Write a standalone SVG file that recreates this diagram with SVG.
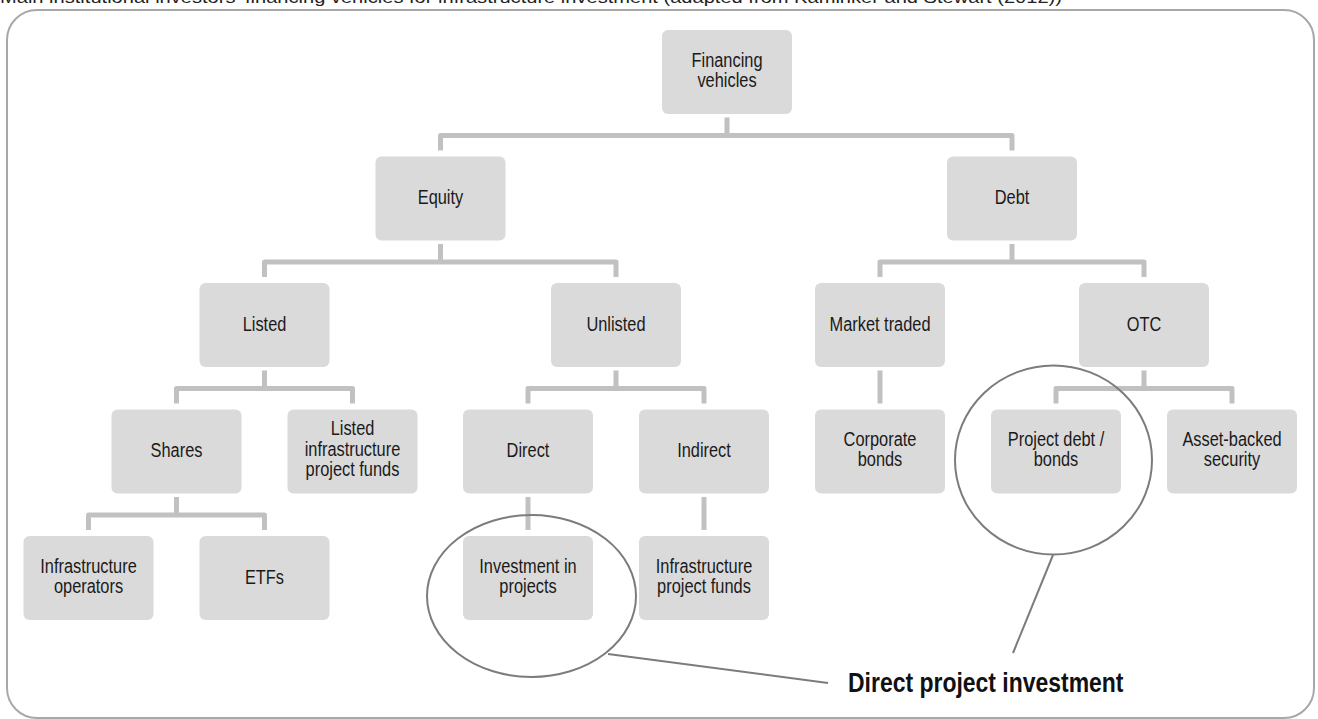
<svg xmlns="http://www.w3.org/2000/svg" width="1318" height="719" viewBox="0 0 1318 719">
<style>
.box{fill:#dadada}
.t{font-family:"Liberation Sans",Arial,sans-serif;font-size:21px;fill:#1a1a1a;text-anchor:middle}
.conn{fill:none;stroke:#c1c1c1;stroke-width:5;stroke-linejoin:round}
.hl{fill:none;stroke:#7c7c7c;stroke-width:2}
.title{font-family:"Liberation Sans",sans-serif;font-size:17px;fill:#222}
.lbl{font-family:"Liberation Sans",Arial,sans-serif;font-size:28px;font-weight:bold;fill:#111}
</style>
<rect width="1318" height="719" fill="#ffffff"/>
<text class="title" x="0" y="3" textLength="1062" lengthAdjust="spacingAndGlyphs">Main institutional investors' financing vehicles for infrastructure investment (adapted from Kaminker and Stewart (2012))</text>
<rect x="7" y="10" width="1307" height="708" rx="30" ry="30" fill="none" stroke="#a8a8a8" stroke-width="2"/>
<g id="connectors">
<path class="conn" d="M727 117.5V135.5M440.5 150.5V135.5H1012V150.5"/>
<path class="conn" d="M440.5 244V262M264.5 277V262H616V277"/>
<path class="conn" d="M1012 244V262M880 277V262H1144V277"/>
<path class="conn" d="M264.5 370.5V388.5M176.5 403.5V388.5H352.5V403.5"/>
<path class="conn" d="M616 370.5V388.5M528 403.5V388.5H704V403.5"/>
<path class="conn" d="M880 370.5V403.5"/>
<path class="conn" d="M1144 370.5V388.5M1056 403.5V388.5H1232V403.5"/>
<path class="conn" d="M176.5 497V515M88.5 530V515H264.5V530"/>
<path class="conn" d="M528 497V530"/>
<path class="conn" d="M704 497V530"/>
</g>
<g id="n-financing"><rect class="box" x="662" y="30" width="130" height="84" rx="6"/><text class="t" transform="translate(727 66.5) scale(.78 1)">Financing</text><text class="t" transform="translate(727 86.5) scale(.78 1)">vehicles</text></g>
<g id="n-equity"><rect class="box" x="375.5" y="156.5" width="130" height="84" rx="6"/><text class="t" transform="translate(440.5 204) scale(.78 1)">Equity</text></g>
<g id="n-debt"><rect class="box" x="947" y="156.5" width="130" height="84" rx="6"/><text class="t" transform="translate(1012 204) scale(.78 1)">Debt</text></g>
<g id="n-listed"><rect class="box" x="199.5" y="283" width="130" height="84" rx="6"/><text class="t" transform="translate(264.5 330.5) scale(.78 1)">Listed</text></g>
<g id="n-unlisted"><rect class="box" x="551" y="283" width="130" height="84" rx="6"/><text class="t" transform="translate(616 330.5) scale(.78 1)">Unlisted</text></g>
<g id="n-market"><rect class="box" x="815" y="283" width="130" height="84" rx="6"/><text class="t" transform="translate(880 330.5) scale(.78 1)">Market traded</text></g>
<g id="n-otc"><rect class="box" x="1079" y="283" width="130" height="84" rx="6"/><text class="t" transform="translate(1144 330.5) scale(.78 1)">OTC</text></g>
<g id="n-shares"><rect class="box" x="111.5" y="409.5" width="130" height="84" rx="6"/><text class="t" transform="translate(176.5 457) scale(.78 1)">Shares</text></g>
<g id="n-listedfunds"><rect class="box" x="287.5" y="409.5" width="130" height="84" rx="6"/><text class="t" transform="translate(352.5 435) scale(.78 1)">Listed</text><text class="t" transform="translate(352.5 455.5) scale(.78 1)">infrastructure</text><text class="t" transform="translate(352.5 476) scale(.78 1)">project funds</text></g>
<g id="n-direct"><rect class="box" x="463" y="409.5" width="130" height="84" rx="6"/><text class="t" transform="translate(528 457) scale(.78 1)">Direct</text></g>
<g id="n-indirect"><rect class="box" x="639" y="409.5" width="130" height="84" rx="6"/><text class="t" transform="translate(704 457) scale(.78 1)">Indirect</text></g>
<g id="n-corporate"><rect class="box" x="815" y="409.5" width="130" height="84" rx="6"/><text class="t" transform="translate(880 445.5) scale(.78 1)">Corporate</text><text class="t" transform="translate(880 466) scale(.78 1)">bonds</text></g>
<g id="n-projectdebt"><rect class="box" x="991" y="409.5" width="130" height="84" rx="6"/><text class="t" transform="translate(1056 445.5) scale(.78 1)">Project debt /</text><text class="t" transform="translate(1056 466) scale(.78 1)">bonds</text></g>
<g id="n-abs"><rect class="box" x="1167" y="409.5" width="130" height="84" rx="6"/><text class="t" transform="translate(1232 445.5) scale(.78 1)">Asset-backed</text><text class="t" transform="translate(1232 466) scale(.78 1)">security</text></g>
<g id="n-operators"><rect class="box" x="23.5" y="536" width="130" height="84" rx="6"/><text class="t" transform="translate(88.5 572.5) scale(.78 1)">Infrastructure</text><text class="t" transform="translate(88.5 592.5) scale(.78 1)">operators</text></g>
<g id="n-etfs"><rect class="box" x="199.5" y="536" width="130" height="84" rx="6"/><text class="t" transform="translate(264.5 583.5) scale(.78 1)">ETFs</text></g>
<g id="n-investment"><rect class="box" x="463" y="536" width="130" height="84" rx="6"/><text class="t" transform="translate(528 572.5) scale(.78 1)">Investment in</text><text class="t" transform="translate(528 592.5) scale(.78 1)">projects</text></g>
<g id="n-infrafunds"><rect class="box" x="639" y="536" width="130" height="84" rx="6"/><text class="t" transform="translate(704 572.5) scale(.78 1)">Infrastructure</text><text class="t" transform="translate(704 592.5) scale(.78 1)">project funds</text></g>
<g id="highlight">
<ellipse class="hl" cx="531.5" cy="596" rx="104.5" ry="81"/>
<ellipse class="hl" cx="1053.5" cy="460" rx="98.5" ry="94.5"/>
<line class="hl" x1="608" y1="654" x2="828" y2="683"/>
<line class="hl" x1="1053" y1="555" x2="1013" y2="653"/>
<text class="lbl" transform="translate(848 692) scale(.82 1)">Direct project investment</text>
</g>
</svg>
